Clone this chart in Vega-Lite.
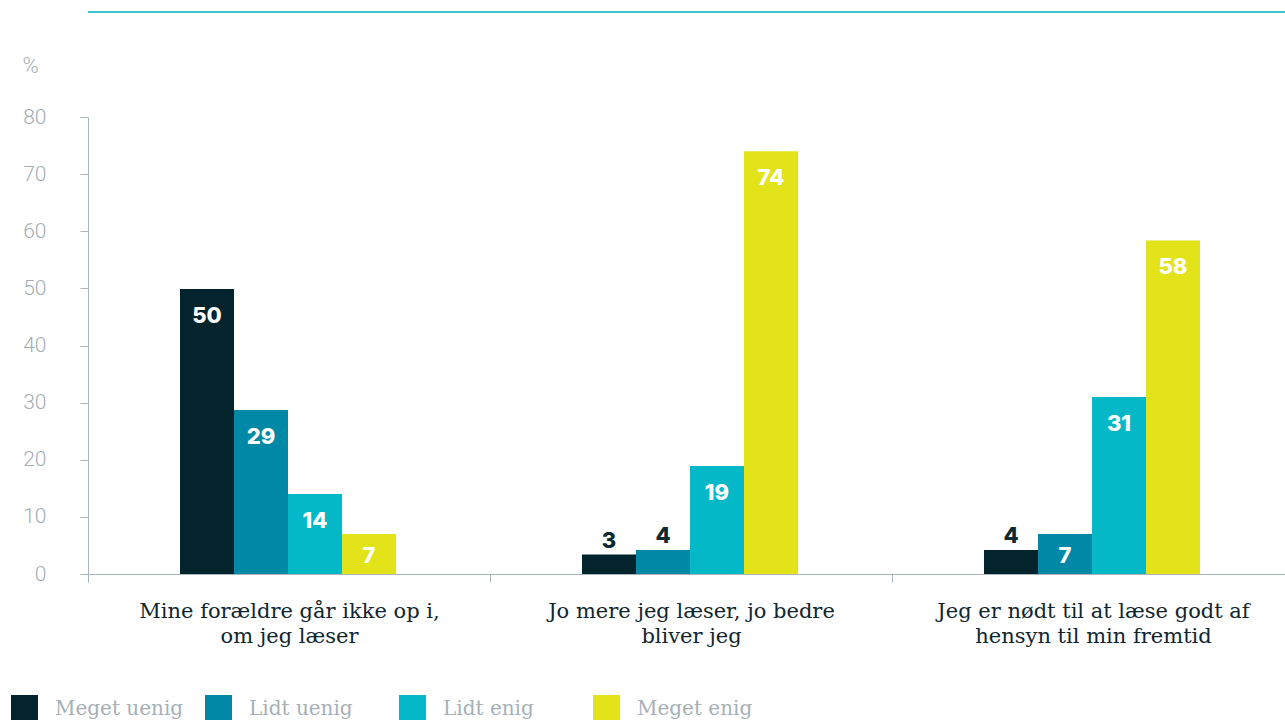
{
  "$schema": "https://vega.github.io/schema/vega-lite/v6.json",
  "width": 1197,
  "height": 457,
  "autosize": {"type": "none"},
  "padding": {"left": 88, "top": 117, "right": 0, "bottom": 146},
  "config": {
    "view": {"stroke": null},
    "background": "#ffffff"
  },
  "datasets": {
    "svar": [
      {"udsagn": "Mine forældre går ikke op i,\nom jeg læser", "svar": "Meget uenig", "procent": 49.9},
      {"udsagn": "Mine forældre går ikke op i,\nom jeg læser", "svar": "Lidt uenig", "procent": 28.7},
      {"udsagn": "Mine forældre går ikke op i,\nom jeg læser", "svar": "Lidt enig", "procent": 14.0},
      {"udsagn": "Mine forældre går ikke op i,\nom jeg læser", "svar": "Meget enig", "procent": 7.0},
      {"udsagn": "Jo mere jeg læser, jo bedre\nbliver jeg", "svar": "Meget uenig", "procent": 3.4},
      {"udsagn": "Jo mere jeg læser, jo bedre\nbliver jeg", "svar": "Lidt uenig", "procent": 4.2},
      {"udsagn": "Jo mere jeg læser, jo bedre\nbliver jeg", "svar": "Lidt enig", "procent": 18.9},
      {"udsagn": "Jo mere jeg læser, jo bedre\nbliver jeg", "svar": "Meget enig", "procent": 74.0},
      {"udsagn": "Jeg er nødt til at læse godt af\nhensyn til min fremtid", "svar": "Meget uenig", "procent": 4.2},
      {"udsagn": "Jeg er nødt til at læse godt af\nhensyn til min fremtid", "svar": "Lidt uenig", "procent": 7.0},
      {"udsagn": "Jeg er nødt til at læse godt af\nhensyn til min fremtid", "svar": "Lidt enig", "procent": 31.0},
      {"udsagn": "Jeg er nødt til at læse godt af\nhensyn til min fremtid", "svar": "Meget enig", "procent": 58.4}
    ]
  },
  "layer": [
    {
      "data": {"values": [{"linje": 98.4}]},
      "mark": {"type": "rule", "color": "#3ec6cf", "strokeWidth": 2, "clip": false},
      "encoding": {
        "y": {"field": "linje", "type": "quantitative"}
      }
    },
    {
      "data": {"name": "svar"},
      "mark": {"type": "bar"},
      "encoding": {
        "x": {
          "field": "udsagn", "type": "nominal", "sort": null,
          "scale": {"range": [0, 1206], "paddingInner": 0, "paddingOuter": 0},
          "axis": {
            "title": null,
            "labelAngle": 0,
            "domainColor": "#a9b4bb",
            "tickColor": "#a9b4bb",
            "tickSize": 8,
            "tickBand": "extent",
            "labelFont": "DejaVu Serif",
            "labelFontSize": 21,
            "labelColor": "#10262e",
            "labelPadding": 18,
            "labelLineHeight": 25,
            "labelBaseline": "top",
            "labelLimit": 0,
            "labelExpr": "split(datum.label, '\\n')"
          }
        },
        "xOffset": {
          "field": "svar", "type": "nominal",
          "scale": {"domain": ["Meget uenig", "Lidt uenig", "Lidt enig", "Meget enig"], "range": [92, 308], "paddingInner": 0, "paddingOuter": 0}
        },
        "y": {
          "field": "procent", "type": "quantitative",
          "scale": {"domain": [0, 80], "nice": false},
          "axis": {
            "title": "%",
            "titleAngle": 0,
            "titleX": -66,
            "titleY": -45,
            "titleAlign": "left",
            "titleBaseline": "alphabetic",
            "titleFont": "Roboto",
            "titleFontWeight": 300,
            "titleFontSize": 22,
            "titleColor": "#a3aeb5",
            "grid": false,
            "values": [0, 10, 20, 30, 40, 50, 60, 70, 80],
            "domainColor": "#a9b4bb",
            "tickColor": "#a9b4bb",
            "tickSize": 8,
            "labelPadding": 34,
            "labelFont": "Roboto",
            "labelFontWeight": 300,
            "labelFontSize": 21,
            "labelColor": "#a3aeb5"
          }
        },
        "color": {
          "field": "svar", "type": "nominal",
          "scale": {
            "domain": ["Meget uenig", "Lidt uenig", "Lidt enig", "Meget enig"],
            "range": ["#03232d", "#0089a6", "#05b8c8", "#e3e31a"]
          },
          "legend": {
            "title": null,
            "orient": "none",
            "legendX": -77,
            "legendY": 578,
            "direction": "horizontal",
            "columns": 4,
            "gridAlign": "all",
            "symbolType": "square",
            "symbolSize": 729,
            "symbolStrokeWidth": 0,
            "symbolOpacity": 1,
            "labelFont": "DejaVu Serif",
            "labelFontSize": 20,
            "labelColor": "#a6b0b6",
            "labelOffset": 17,
            "labelLimit": 0,
            "columnPadding": 21,
            "padding": 0
          }
        }
      }
    },
    {
      "data": {"name": "svar"},
      "transform": [{"filter": "datum.procent >= 10"}],
      "mark": {"type": "text", "font": "Inter", "fontWeight": 800, "fontSize": 22, "color": "#ffffff", "baseline": "alphabetic", "dy": 34},
      "encoding": {
        "x": {"field": "udsagn", "type": "nominal", "sort": null},
        "xOffset": {"field": "svar", "type": "nominal"},
        "y": {"field": "procent", "type": "quantitative"},
        "text": {"field": "procent", "type": "quantitative", "format": ".0f"}
      }
    },
    {
      "data": {"name": "svar"},
      "transform": [{"filter": "datum.procent >= 5 && datum.procent < 10"}],
      "mark": {"type": "text", "font": "Inter", "fontWeight": 800, "fontSize": 22, "color": "#ffffff", "baseline": "alphabetic", "dy": 29},
      "encoding": {
        "x": {"field": "udsagn", "type": "nominal", "sort": null},
        "xOffset": {"field": "svar", "type": "nominal"},
        "y": {"field": "procent", "type": "quantitative"},
        "text": {"field": "procent", "type": "quantitative", "format": ".0f"}
      }
    },
    {
      "data": {"name": "svar"},
      "transform": [{"filter": "datum.procent < 5"}],
      "mark": {"type": "text", "font": "Inter", "fontWeight": 800, "fontSize": 22, "color": "#0c2a33", "baseline": "alphabetic", "dy": -7},
      "encoding": {
        "x": {"field": "udsagn", "type": "nominal", "sort": null},
        "xOffset": {"field": "svar", "type": "nominal"},
        "y": {"field": "procent", "type": "quantitative"},
        "text": {"field": "procent", "type": "quantitative", "format": ".0f"}
      }
    }
  ]
}
